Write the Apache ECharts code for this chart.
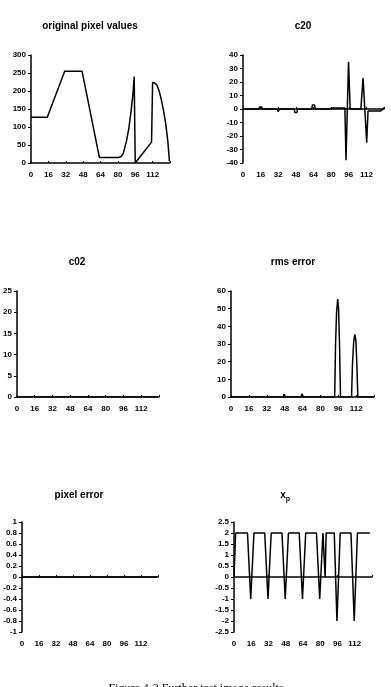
<!DOCTYPE html>
<html>
<head>
<meta charset="utf-8">
<script src="https://cdn.jsdelivr.net/npm/echarts@6/dist/echarts.min.js"></script>
<style>
  html, body { margin: 0; padding: 0; background: #fff; }
  #chart { width: 391px; height: 687px; }
</style>
</head>
<body>
<div id="chart"></div>
<script>
// values, x = pixel index (0..127)
const pixelValues = [[0, 127], [15, 127], [31, 255], [47, 255], [63, 15], [80, 15], [83, 18], [85, 27], [88, 62], [90, 95], [92, 140], [94, 195], [95, 240], [96, 0], [111, 58], [112, 224], [114, 222], [116, 216], [118, 200], [120, 176], [122, 146], [124, 110], [126, 60], [127.5, 4]]
const c20 = [[0, 0], [14.5, 0], [15, 1.5], [16, 2], [17, 1.5], [17.5, 0], [31, 0], [32, -2], [33, 0], [46.5, 0], [47, -2.5], [48, -3], [49, -2.5], [49.5, 0], [62.5, 0], [63, 3], [64, 3.5], [65, 3], [65.5, 0], [79, 0], [80, 1.2], [81, 0.8], [92.5, 0.8], [93.5, -38], [95.8, 35], [97.3, 0], [107, 0], [109, 23], [112.3, -25], [113.5, -1.5], [125, -1.5], [127, 0], [128, 1]]
const c02 = [[0, 0], [127, 0]]
const rmsError = [[0, 0], [15, 0], [15.3, 0.8], [16.7, 0.8], [17, 0], [31, 0], [31.3, 0.6], [32.7, 0.6], [33, 0], [47, 0], [47.3, 1.6], [48.7, 1.6], [49, 0], [63, 0], [63.3, 1.8], [64.7, 1.8], [65, 0], [92.8, 0], [93.6, 30], [94.5, 48], [95.5, 55.5], [96.3, 50], [97.2, 28], [98, 0], [107.9, 0], [108.7, 18], [109.8, 31], [110.8, 35.5], [111.8, 32], [112.7, 18], [113.5, 0], [128, 0]]
const pixelError = [[0, 0], [127, 0]]
const xp = [[0, 0], [1.5, 2], [12.5, 2], [15.5, -1], [18.5, 2], [28.5, 2], [31.5, -1], [34.5, 2], [44.5, 2], [47.5, -1], [50.5, 2], [60.5, 2], [63.5, -1], [66.5, 2], [76.5, 2], [79.5, -1], [82.5, 2], [83.5, 2], [84.5, 0], [85.5, 2], [93, 2], [95.5, -2], [98.5, 2], [108.5, 2], [111.5, -2], [114.5, 2], [126, 2]]

const xMax = 128
const xStep = 16
const yRanges = [[0, 300, 50], [-40, 40, 10], [0, 25, 5], [0, 60, 10], [-1, 1, 0.2], [-2.5, 2.5, 0.5]]
const titles = ['original pixel values', 'c20', 'c02', 'rms error', 'pixel error', 'x']
const seriesData = [pixelValues, c20, c02, rmsError, pixelError, xp]

const font = 'Liberation Sans'
const panels = [
  { left: 31, top: 55, width: 139, height: 108, tx: 90, ty: 26 },
  { left: 243, top: 55, width: 141, height: 108, tx: 303, ty: 26 },
  { left: 16, top: 291, width: 143, height: 106, tx: 77, ty: 262 },
  { left: 231, top: 291, width: 143, height: 106, tx: 293, ty: 262 },
  { left: 22, top: 522, width: 136, height: 110, tx: 79, ty: 495 },
  { left: 234, top: 522, width: 138, height: 110, tx: 283, ty: 495 },
]

const grid = [], xAxis = [], yAxis = [], series = [], graphic = []
const labelStyle = { color: '#000', fontFamily: font, fontWeight: 'bold', fontSize: 8 }

panels.forEach((p, i) => {
  const [ymin, ymax, yint] = yRanges[i]
  const zeroLine = ymin < 0
  grid.push({ left: p.left, top: p.top, width: p.width, height: p.height })
  // bottom axis carries the labels
  xAxis.push({
    gridIndex: i, type: 'value', position: 'bottom', min: 0, max: xMax, interval: xStep,
    axisLine: { show: !zeroLine, onZero: false, lineStyle: { color: '#000', width: 1.5 } },
    axisTick: { show: !zeroLine, inside: true, length: 2, lineStyle: { color: '#000' } },
    axisLabel: { ...labelStyle, margin: 8, formatter: v => (v < xMax ? v : '') },
    splitLine: { show: false },
  })
  // zero line for the panels that go below zero
  if (zeroLine) {
    xAxis.push({
      gridIndex: i, type: 'value', position: 'top', min: 0, max: xMax, interval: xStep,
      axisLine: { show: true, onZero: true, lineStyle: { color: '#000', width: 1.5 } },
      axisTick: { show: true, inside: false, length: 2, lineStyle: { color: '#000' } },
      axisLabel: { show: false },
      splitLine: { show: false },
    })
  }
  yAxis.push({
    gridIndex: i, type: 'value', min: ymin, max: ymax, interval: yint,
    axisLine: { show: true, lineStyle: { color: '#000', width: 1.5 } },
    axisTick: { show: true, length: 3, lineStyle: { color: '#000' } },
    axisLabel: { ...labelStyle, margin: 5 },
    splitLine: { show: false },
  })
  series.push({
    type: 'line', xAxisIndex: xAxis.length - 1, yAxisIndex: i,
    data: seriesData[i], symbol: 'none', silent: true,
    lineStyle: { color: '#000', width: 1.5 },
  })
  graphic.push({
    type: 'text', x: p.tx, y: p.ty,
    style: { text: titles[i], fill: '#000', font: 'bold 10px "Liberation Sans"', align: 'center', verticalAlign: 'middle' },
  })
})

// subscript p of x_p
graphic.push({
  type: 'text', x: 288, y: 499,
  style: { text: 'p', fill: '#000', font: 'bold 7px "Liberation Sans"', align: 'center', verticalAlign: 'middle' },
})
graphic.push({
  type: 'text', x: 196, y: 683,
  style: { text: 'Figure 4-3 Further test image results', fill: '#000', font: '12px "Liberation Serif"', align: 'center', verticalAlign: 'top' },
})

const chart = echarts.init(document.getElementById('chart'))
chart.setOption({
  animation: false,
  backgroundColor: '#fff',
  grid, xAxis, yAxis, series, graphic,
})
</script>
</body>
</html>
